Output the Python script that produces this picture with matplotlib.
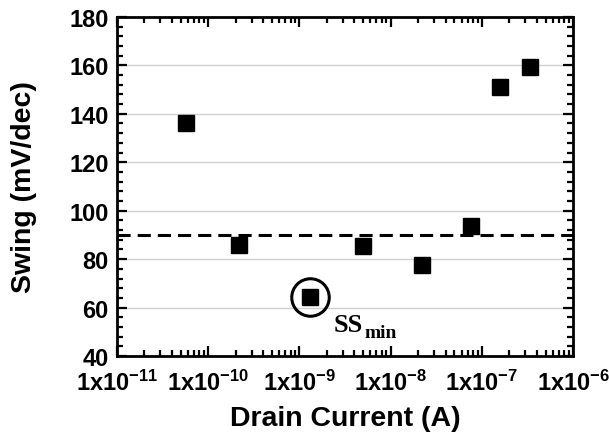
import matplotlib

matplotlib.use("Agg")
import matplotlib.pyplot as plt
from matplotlib.ticker import FixedLocator, LogLocator, MultipleLocator, NullFormatter

plt.rcParams["font.family"] = ["Liberation Sans", "DejaVu Sans"]
plt.rcParams["font.weight"] = "bold"
plt.rcParams["mathtext.fontset"] = "custom"
plt.rcParams["mathtext.rm"] = "Liberation Sans:bold"
plt.rcParams["mathtext.bf"] = "Liberation Sans:bold"

# 数据
drain_current = [5.7e-11, 2.2e-10, 1.3e-9, 5.0e-9, 2.2e-8, 7.6e-8, 1.6e-7, 3.4e-7]
swing = [136, 86, 64.5, 85.5, 77.5, 93.5, 151, 159.5]
ss_ref = 90
ss_min_idx = 2

x_ticks = [1e-11, 1e-10, 1e-9, 1e-8, 1e-7, 1e-6]
x_labels = [r"$\mathbf{1x10^{-11}}$", r"$\mathbf{1x10^{-10}}$", r"$\mathbf{1x10^{-9}}$",
            r"$\mathbf{1x10^{-8}}$", r"$\mathbf{1x10^{-7}}$", r"$\mathbf{1x10^{-6}}$"]
y_ticks = [40, 60, 80, 100, 120, 140, 160, 180]

fig = plt.figure(figsize=(6.09, 4.35), dpi=100)
ax = fig.add_axes([0.192, 0.179, 0.749, 0.780])

ax.set_xscale("log")
ax.set_xlim(1e-11, 1e-6)
ax.set_ylim(40, 180)

# 网格线（仅水平）
for yv in y_ticks[1:-1]:
    ax.axhline(yv, color="#cfcfcf", lw=1.0, zorder=0)

ax.axhline(ss_ref, color="black", lw=2.2, dashes=(4.3, 2.3), zorder=2)

ax.plot(drain_current, swing, "s", color="black", markersize=12, zorder=3)

# SS_min 圈注
ax.plot(drain_current[ss_min_idx], swing[ss_min_idx], "o", markersize=27,
        markerfacecolor="none", markeredgecolor="black", markeredgewidth=2.2, zorder=3)
ss_txt = ax.annotate("SS", xy=(drain_current[ss_min_idx], swing[ss_min_idx]),
                     xytext=(17, -12), textcoords="offset points",
                     ha="left", va="top", fontsize=19, fontweight="bold",
                     family=["Liberation Serif", "DejaVu Serif"])
ax.annotate("min", xy=(1, 0), xycoords=ss_txt, xytext=(1, -3),
            textcoords="offset points", ha="left", va="bottom", fontsize=14,
            fontweight="bold", family=["Liberation Serif", "DejaVu Serif"])

ax.xaxis.set_major_locator(FixedLocator(x_ticks))
ax.set_xticklabels(x_labels)
ax.xaxis.set_minor_locator(LogLocator(base=10, subs=range(2, 10), numticks=20))
ax.xaxis.set_minor_formatter(NullFormatter())
ax.set_yticks(y_ticks)
ax.yaxis.set_minor_locator(MultipleLocator(4))

ax.tick_params(which="both", direction="in", top=True, right=True, width=1.6)
ax.tick_params(which="major", length=7, labelsize=17, pad=6)
ax.tick_params(axis="x", which="major", pad=10)
ax.tick_params(which="minor", length=4)
for lbl in ax.get_yticklabels():
    lbl.set_fontweight("bold")
for sp in ax.spines.values():
    sp.set_linewidth(2)

ax.set_xlabel("Drain Current (A)", fontsize=20.5, fontweight="bold", labelpad=7)
ax.set_ylabel("Swing (mV/dec)", fontsize=20.5, fontweight="bold", labelpad=23)

fig.savefig("out.png", dpi=100)
